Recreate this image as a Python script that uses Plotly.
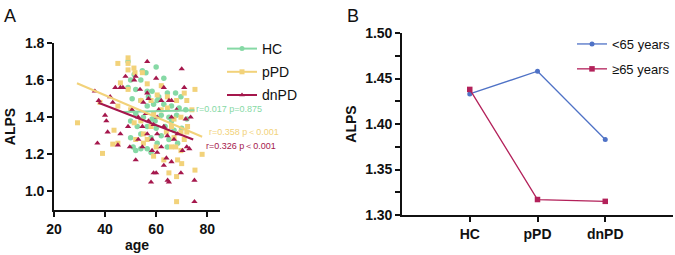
import plotly.graph_objects as go

# ---------------- Panel A data (age vs ALPS) ----------------
hc_age = [49, 51.4, 54.6, 56, 60, 63, 54, 50, 49, 52, 56.5, 58.4, 61, 64.4, 67.6, 69.7,
          54, 56.5, 59, 63, 66, 69, 71.6, 52, 55, 58.4, 62, 65, 68, 72, 50, 52.6, 56.5,
          60, 63.5, 67, 70, 50, 54, 58, 62, 65, 51, 54, 56.5, 60.4, 52, 58, 64.4, 68.4,
          60.4, 57, 50.6, 66, 59.6]
hc_alps = [1.70, 1.63, 1.65, 1.64, 1.67, 1.61, 1.60, 1.60, 1.56, 1.55, 1.54, 1.54, 1.51, 1.53, 1.53, 1.51,
           1.49, 1.46, 1.47, 1.47, 1.46, 1.45, 1.44, 1.42, 1.40, 1.39, 1.41, 1.40, 1.41, 1.39, 1.38, 1.35, 1.35,
           1.34, 1.35, 1.33, 1.34, 1.29, 1.31, 1.29, 1.30, 1.28, 1.24, 1.23, 1.23, 1.26, 1.22, 1.21, 1.24, 1.26,
           1.49, 1.51, 1.50, 1.38, 1.38]

ppd_age = [29.2, 38, 39, 43, 45, 49, 49, 46, 49, 51.3, 51.7, 54.6, 56.5, 49, 45, 50, 43.5, 45,
           54, 58, 60.4, 62, 64.4, 66, 67, 67.7, 69.7, 68.4, 70, 65, 68, 68, 75.2, 78, 75.2, 71,
           74, 72.3, 72, 59, 60, 63, 55, 55, 52, 58, 64, 67, 69.7, 68, 72, 62, 64.4, 59, 54,
           51.4, 56.5, 69.7, 71, 66]
ppd_alps = [1.37, 1.48, 1.205, 1.255, 1.69, 1.72, 1.69, 1.585, 1.655, 1.665, 1.64, 1.64, 1.58, 1.55, 1.46, 1.44, 1.33, 1.26,
            1.49, 1.49, 1.52, 1.44, 1.45, 1.35, 1.29, 1.24, 1.22, 1.17, 1.15, 1.10, 1.08, 0.945, 1.115, 1.20, 1.55, 1.53,
            1.44, 1.35, 1.32, 1.19, 1.24, 1.17, 1.31, 1.26, 1.28, 1.35, 1.32, 1.39, 1.40, 1.49, 1.49, 1.57, 1.51, 1.42, 1.38,
            1.37, 1.28, 1.32, 1.28, 1.24]

dnpd_age = [36, 37, 37.5, 40, 40.5, 41, 42, 43, 44, 45, 46, 47, 48, 46, 49, 49.7, 50.6, 51.4, 52, 52,
            53, 53, 53.7, 54.6, 54.6, 55, 56, 56.5, 56.5, 57, 58, 58.4, 59, 60, 59, 60, 60.4, 61, 62, 63,
            63, 64, 64.5, 65, 65, 66, 66, 67, 68, 68.4, 69.7, 70, 70.3, 71, 71.6, 72, 73, 73.5, 75, 75,
            57, 60.4, 64.4, 58.4, 62, 66, 56.5, 60.4, 63]
dnpd_alps = [1.54, 1.26, 1.49, 1.41, 1.38, 1.32, 1.51, 1.48, 1.56, 1.25, 1.56, 1.56, 1.62, 1.31, 1.35, 1.24, 1.44, 1.60, 1.62, 1.17,
             1.40, 1.28, 1.55, 1.35, 1.24, 1.48, 1.42, 1.70, 1.31, 1.38, 1.05, 1.22, 1.10, 1.10, 1.36, 1.61, 1.31, 1.44, 1.24, 1.56,
             1.35, 1.18, 1.06, 1.05, 1.49, 1.40, 1.16, 1.28, 1.44, 1.31, 1.10, 1.66, 1.22, 1.56, 1.39, 1.24, 1.23, 1.40, 1.06, 0.945,
             1.50, 1.40, 1.30, 1.28, 1.49, 1.49, 1.53, 1.21, 1.14]

# regression lines (end points)
hc_fit_age, hc_fit_alps = [47, 75], [1.428, 1.438]
ppd_fit_age, ppd_fit_alps = [29, 78], [1.583, 1.295]
dnpd_fit_age, dnpd_fit_alps = [37.4, 74.5], [1.478, 1.28]

stats_text = ["r=0.017 p=0.875", "r=0.358 p\uff1c0.001", "r=0.326 p\uff1c0.001"]
stats_pos_age = [74.8, 80, 78.8]
stats_pos_alps = [1.446, 1.318, 1.243]

# ---------------- Panel B data ----------------
groups = ["HC", "pPD", "dnPD"]
under65 = [1.433, 1.458, 1.383]
over65 = [1.438, 1.317, 1.315]

C_HC, C_PPD, C_DN = "#86d9a5", "#f2d27a", "#a5174c"
C_BLUE, C_RED = "#4f72c6", "#b3215a"
FONT = "Liberation Sans, Arial, sans-serif"

fig = go.Figure()

# scatter points
fig.add_trace(go.Scatter(x=hc_age, y=hc_alps, mode="markers", xaxis="x", yaxis="y",
                         marker=dict(symbol="circle", size=5.5, color=C_HC), showlegend=False))
fig.add_trace(go.Scatter(x=ppd_age, y=ppd_alps, mode="markers", xaxis="x", yaxis="y",
                         marker=dict(symbol="square", size=5, color=C_PPD), showlegend=False))
fig.add_trace(go.Scatter(x=dnpd_age, y=dnpd_alps, mode="markers", xaxis="x", yaxis="y",
                         marker=dict(symbol="triangle-up", size=5.5, color=C_DN), showlegend=False))
# fit lines
for fx, fy, c in [(hc_fit_age, hc_fit_alps, C_HC), (ppd_fit_age, ppd_fit_alps, C_PPD),
                  (dnpd_fit_age, dnpd_fit_alps, C_DN)]:
    fig.add_trace(go.Scatter(x=fx, y=fy, mode="lines", xaxis="x", yaxis="y",
                             line=dict(color=c, width=2), showlegend=False))

# legend entries panel A
for name, c, sym, g in [("HC", C_HC, "circle", "a"), ("pPD", C_PPD, "square", "b"), ("dnPD", C_DN, "triangle-up", "c")]:
    fig.add_trace(go.Scatter(x=[None], y=[None], mode="lines+markers", name=name, xaxis="x", yaxis="y",
                             legend="legend", legendgroup=g,
                             line=dict(color=c, width=2), marker=dict(symbol=sym, size=5, color=c)))

for t, xx, yy, c in zip(stats_text, stats_pos_age, stats_pos_alps, [C_HC, C_PPD, C_DN]):
    fig.add_annotation(x=xx, y=yy, xref="x", yref="y", text=t, showarrow=False,
                       xanchor="left", yanchor="middle", font=dict(size=9, color=c, family=FONT))

# Panel B
fig.add_trace(go.Scatter(x=groups, y=under65, mode="lines+markers", name="<65 years", xaxis="x2", yaxis="y2",
                         legend="legend2", legendgroup="u",
                         line=dict(color=C_BLUE, width=1.3), marker=dict(symbol="circle", size=5, color=C_BLUE)))
fig.add_trace(go.Scatter(x=groups, y=over65, mode="lines+markers", name="\u226565 years", xaxis="x2", yaxis="y2",
                         legend="legend2", legendgroup="o",
                         line=dict(color=C_RED, width=1.3), marker=dict(symbol="square", size=5.5, color=C_RED)))

axis_common = dict(showline=True, linecolor="#111", linewidth=1.6, ticks="outside", ticklen=5,
                   tickwidth=1.6, tickcolor="#111", showgrid=False, zeroline=False,
                   tickfont=dict(size=14, family=FONT, color="#111", weight="bold"))
title_font = dict(size=14, family=FONT, color="#111", weight="bold")

fig.update_layout(
    width=675, height=255, margin=dict(l=0, r=0, t=0, b=0, autoexpand=False),
    paper_bgcolor="white", plot_bgcolor="white",
    xaxis=dict(domain=[54/675, 220/675], range=[20, 85], tickvals=[20, 40, 60, 80], anchor="y",
               title=dict(text="age", font=title_font, standoff=4), **axis_common),
    yaxis=dict(domain=[45/255, 212/255], range=[0.9, 1.8], tickvals=[1.0, 1.2, 1.4, 1.6, 1.8],
               ticktext=["1.0", "1.2", "1.4", "1.6", "1.8"], anchor="x",
               title=dict(text="ALPS", font=title_font, standoff=6), **axis_common),
    xaxis2=dict(domain=[402/675, 673/675], type="category", range=[-1, 3], anchor="y2", **axis_common),
    yaxis2=dict(domain=[40/255, 222/255], range=[1.30, 1.50], tickvals=[1.30, 1.35, 1.40, 1.45, 1.50],
                ticktext=["1.30", "1.35", "1.40", "1.45", "1.50"], anchor="x2",
                minor=dict(dtick=0.025, tick0=1.30, ticks="outside", ticklen=5, tickwidth=1.6, tickcolor="#111"),
                title=dict(text="ALPS", font=title_font, standoff=5), **axis_common),
    legend=dict(x=222/675, y=1 - 33/255, xanchor="left", yanchor="top", bgcolor="rgba(0,0,0,0)",
                font=dict(size=14, family=FONT, color="#111"), tracegroupgap=2),
    legend2=dict(x=1.0, y=1 - 29/255, xanchor="right", yanchor="top", bgcolor="rgba(0,0,0,0)",
                 font=dict(size=13, family=FONT, color="#111"), tracegroupgap=5),
)

fig.add_annotation(x=2/675, y=1 - 4/255, xref="paper", yref="paper", text="A", showarrow=False,
                   xanchor="left", yanchor="top", font=dict(size=18, family=FONT, color="#111"))
fig.add_annotation(x=345/675, y=1 - 4/255, xref="paper", yref="paper", text="B", showarrow=False,
                   xanchor="left", yanchor="top", font=dict(size=18, family=FONT, color="#111"))

fig.write_html("out.html", config={"displayModeBar": False},
               post_script="document.body.style.margin='0';document.body.style.overflow='hidden';")
